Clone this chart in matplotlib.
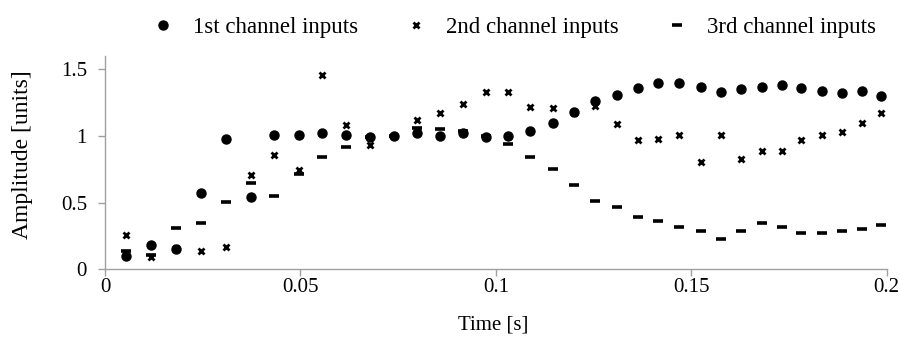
import matplotlib
matplotlib.use("Agg")
import matplotlib.pyplot as plt

time_s = [0.0053, 0.0117, 0.0182, 0.0246, 0.0309, 0.0374, 0.0433, 0.0496, 0.0556,
          0.0617, 0.0679, 0.0739, 0.0798, 0.0858, 0.0916, 0.0975, 0.1032, 0.1087,
          0.1146, 0.1201, 0.1254, 0.1309, 0.1363, 0.1416, 0.1469, 0.1524, 0.1575,
          0.1627, 0.1680, 0.1732, 0.1781, 0.1834, 0.1886, 0.1936, 0.1985]

ch1 = [0.10, 0.18, 0.155, 0.575, 0.98, 0.54, 1.01, 1.01, 1.02, 1.01, 0.995, 1.0,
       1.02, 1.0, 1.02, 0.99, 1.0, 1.04, 1.095, 1.18, 1.26, 1.31, 1.36, 1.395,
       1.395, 1.37, 1.33, 1.35, 1.37, 1.38, 1.36, 1.34, 1.32, 1.34, 1.30]

ch2 = [0.255, 0.09, 0.16, 0.14, 0.165, 0.71, 0.86, 0.745, 1.46, 1.08, 0.93, 1.0,
       1.12, 1.175, 1.24, 1.33, 1.33, 1.22, 1.21, 1.17, 1.225, 1.09, 0.97, 0.98,
       1.01, 0.805, 1.01, 0.825, 0.89, 0.89, 0.97, 1.01, 1.03, 1.10, 1.17]

ch3 = [0.14, 0.11, 0.31, 0.35, 0.505, 0.65, 0.55, 0.715, 0.84, 0.92, 0.99, 1.0,
       1.06, 1.05, 1.035, 1.0, 0.94, 0.84, 0.755, 0.63, 0.51, 0.465, 0.395, 0.36,
       0.32, 0.29, 0.23, 0.29, 0.35, 0.32, 0.275, 0.275, 0.29, 0.30, 0.335]

labels = ["1st channel inputs", "2nd channel inputs", "3rd channel inputs"]
xticks = [0, 0.05, 0.1, 0.15, 0.2]
xticklabels = ["0", "0.05", "0.1", "0.15", "0.2"]
yticks = [0, 0.5, 1, 1.5]
yticklabels = ["0", "0.5", "1", "1.5"]

plt.rcParams['font.family'] = ['Liberation Serif', 'DejaVu Serif']

W, H = 901, 338
fig = plt.figure(figsize=(W / 100, H / 100), dpi=100)
ax = fig.add_axes([105 / W, 1 - 269.3 / H, 781.7 / W, 213.3 / H])

ax.plot(time_s, ch1, linestyle='none', marker='o', markersize=6.5, color='black', label=labels[0])
ax.plot(time_s, ch2, linestyle='none', marker='x', markersize=5, markeredgewidth=2, color='black', label=labels[1])
ax.plot(time_s, ch3, linestyle='none', marker='_', markersize=7, markeredgewidth=2.6, color='black', label=labels[2])

ax.set_xlim(0, 0.2)
ax.set_ylim(0, 1.6)
ax.set_xticks(xticks)
ax.set_xticklabels(xticklabels)
ax.set_yticks(yticks)
ax.set_yticklabels(yticklabels)

for s in ['top', 'right']:
    ax.spines[s].set_visible(False)
for s in ['left', 'bottom']:
    ax.spines[s].set_color('#a0a0a0')
    ax.spines[s].set_linewidth(1.0)
ax.tick_params(axis='both', direction='out', length=5, width=1, color='#a0a0a0',
               labelsize=15)
ax.tick_params(axis='x', pad=1)
ax.tick_params(axis='y', pad=8)

ax.set_xlabel("Time [s]", fontsize=15, va='center')
ax.xaxis.set_label_coords(0.496, -0.263)
ax.set_ylabel("Amplitude [units]", fontsize=17, va='center')
ax.yaxis.set_label_coords(-0.1055, 0.536)

fig.legend(loc='center left', bbox_to_anchor=(151.5 / W, 1 - 27.5 / H), ncol=3,
           frameon=False, borderpad=0, borderaxespad=0,
           fontsize=16.5, handlelength=1.0, handletextpad=0.8, columnspacing=2.05)

fig.savefig("out.png", dpi=100)
